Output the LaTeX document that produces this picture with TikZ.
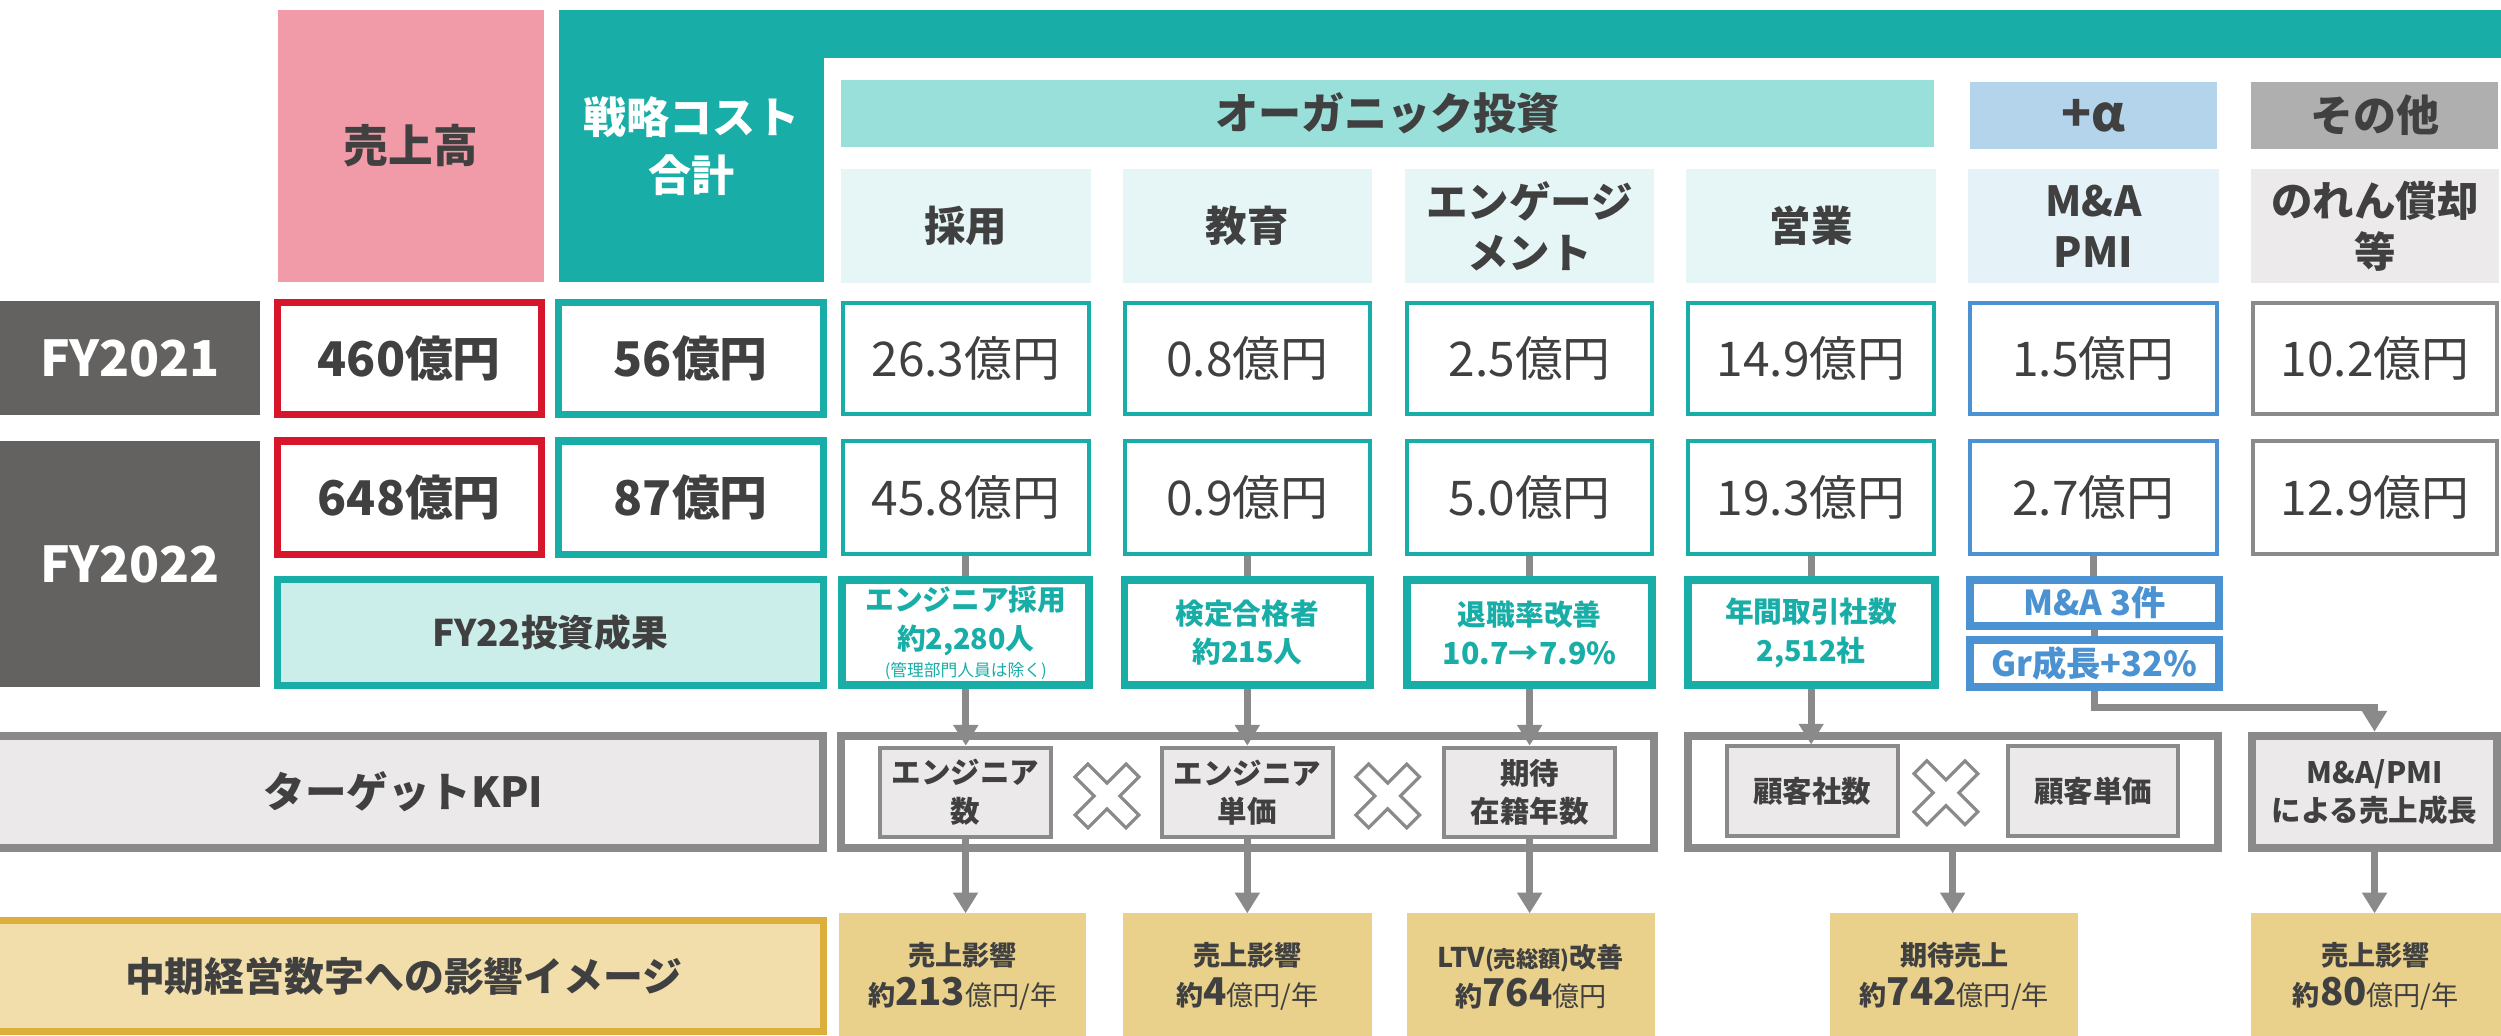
\documentclass[tikz,border=0pt]{standalone}
\usepackage{fontspec}
\setmainfont{Noto Sans CJK JP}
\usetikzlibrary{arrows.meta}
\definecolor{pinkc}{HTML}{F09BA7}
\definecolor{tealc}{HTML}{19ADA7}
\definecolor{tealband}{HTML}{99E0DA}
\definecolor{subteal}{HTML}{E6F5F5}
\definecolor{subblue}{HTML}{E5F2F8}
\definecolor{subgray}{HTML}{ECEAEA}
\definecolor{plusblue}{HTML}{B4D4EC}
\definecolor{othergray}{HTML}{B0AFAF}
\definecolor{fygray}{HTML}{636261}
\definecolor{redc}{HTML}{D7162B}
\definecolor{bluec}{HTML}{4A92D1}
\definecolor{grayc}{HTML}{8A8A8A}
\definecolor{kpifill}{HTML}{EBE9EA}
\definecolor{seikafill}{HTML}{CCEEEA}
\definecolor{yellowc}{HTML}{E9D08B}
\definecolor{yellowlt}{HTML}{F2DEAB}
\definecolor{goldc}{HTML}{DCAE3B}
\definecolor{txt}{HTML}{404040}
\newcommand\fs[2]{\fontsize{#1}{#2}\selectfont}
\newcommand\bx[7]{\node[#2,minimum width={(#5)-(#3)},minimum height={(#6)-(#4)}] (#1) at ({((#3)+(#5))/2},{((#4)+(#6))/2}) {#7};}
\newcommand\xmk[2]{\begin{scope}[shift={(#1,#2)},rotate=45]\draw[xmark] (5.7,22.6) -- (5.7,5.7) -- (22.6,5.7) -- (22.6,-5.7) -- (5.7,-5.7) -- (5.7,-22.6) -- (-5.7,-22.6) -- (-5.7,-5.7) -- (-22.6,-5.7) -- (-22.6,5.7) -- (-5.7,5.7) -- (-5.7,22.6) -- cycle;\end{scope}}
\tikzset{
 cell/.style={inner sep=0pt,outer sep=0pt,align=center,text=txt,rectangle},
 hdr/.style={cell,font=\fs{26}{32}\bfseries},
 val/.style={cell,fill=white,draw=#1,line width=2.5pt,font=\fs{30}{36}},
 bigval/.style={cell,fill=white,draw=#1,line width=4.5pt,font=\fs{30}{36}\bfseries},
 res/.style={cell,fill=white,draw=#1,line width=5pt,text=#1,font=\fs{18}{24.4}\bfseries},
 kpibig/.style={cell,draw=grayc,line width=5pt},
 kpisub/.style={cell,fill=kpifill,draw=grayc,line width=2.5pt,font=\fs{18.5}{24}\bfseries},
 yel/.style={cell,fill=yellowc,font=\fs{17}{25}\bfseries},
 link/.style={draw=grayc,line width=4.5pt},
 arr/.style={link,-{Triangle[width=15pt,length=13pt]}},
 xmark/.style={draw=grayc,fill=white,line width=2pt,line join=miter},
}
\begin{document}
\begin{tikzpicture}[x=1pt,y=-1pt]
\useasboundingbox (0,0) rectangle (1568,649);
% header
\fill[tealc] (510,6) rectangle (1568,36.4);
\bx{uri}{cell,fill=pinkc,font=\fs{28}{34}\bfseries}{174}{6}{341}{177}{売上高}
\bx{sen}{cell,fill=tealc,text=white,font=\fs{27}{36.5}\bfseries}{350.5}{6}{516.5}{177}{戦略コスト\\合計}
\bx{org}{hdr,fill=tealband,font=\fs{27}{32}\bfseries}{527.4}{50.2}{1212.7}{92}{オーガニック投資}
\bx{pla}{hdr,fill=plusblue,font=\fs{31}{32}\bfseries}{1235}{51.4}{1390}{93.2}{+α}
\bx{oth}{hdr,fill=othergray,font=\fs{27}{32}\bfseries}{1411.5}{51.4}{1566}{93.2}{その他}
\bx{h1}{hdr,fill=subteal}{527}{106}{684}{177.2}{採用}
\bx{h2}{hdr,fill=subteal}{704}{106}{860}{177.2}{教育}
\bx{h3}{hdr,fill=subteal}{881}{106}{1037}{177.2}{エンゲージ\\メント}
\bx{h4}{hdr,fill=subteal}{1057}{106}{1214}{177.2}{営業}
\bx{h5}{hdr,fill=subblue}{1234}{106}{1391}{177.2}{M\&A\\PMI}
\bx{h6}{hdr,fill=subgray}{1411}{106}{1567}{177.2}{のれん償却\\等}
% row labels
\bx{fy21}{cell,fill=fygray,text=white,font=\fs{31}{36}\bfseries}{0}{189}{163}{260}{FY2021}
\bx{fy22}{cell,fill=fygray,text=white,font=\fs{31}{36}\bfseries}{0}{276.5}{163}{431}{FY2022}
% FY2021 values
\bx{v21u}{bigval=redc}{173.75}{189.75}{339.45}{259.75}{460億円}
\bx{v21s}{bigval=tealc}{349.95}{189.75}{516.25}{259.75}{56億円}
\bx{v21c1}{val=tealc}{528.25}{190.25}{682.75}{259.75}{26.3億円}
\bx{v21c2}{val=tealc}{705.25}{190.25}{858.75}{259.75}{0.8億円}
\bx{v21c3}{val=tealc}{882.25}{190.25}{1035.75}{259.75}{2.5億円}
\bx{v21c4}{val=tealc}{1058.25}{190.25}{1212.75}{259.75}{14.9億円}
\bx{v21c5}{val=bluec}{1235.25}{190.25}{1389.75}{259.75}{1.5億円}
\bx{v21c6}{val=grayc}{1412.25}{190.25}{1565.75}{259.75}{10.2億円}
% FY2022 values
\bx{v22u}{bigval=redc}{173.75}{276.45}{339.45}{347.75}{648億円}
\bx{v22s}{bigval=tealc}{349.95}{276.45}{516.25}{347.75}{87億円}
\bx{v22c1}{val=tealc}{528.25}{276.65}{682.75}{347.15}{45.8億円}
\bx{v22c2}{val=tealc}{705.25}{276.65}{858.75}{347.15}{0.9億円}
\bx{v22c3}{val=tealc}{882.25}{276.65}{1035.75}{347.15}{5.0億円}
\bx{v22c4}{val=tealc}{1058.25}{276.65}{1212.75}{347.15}{19.3億円}
\bx{v22c5}{val=bluec}{1235.25}{276.65}{1389.75}{347.15}{2.7億円}
\bx{v22c6}{val=grayc}{1412.25}{276.65}{1565.75}{347.15}{12.9億円}
% results
\bx{seika}{cell,fill=seikafill,draw=tealc,line width=4.5pt,font=\fs{23}{26}\bfseries}{173.75}{363.25}{516.25}{429.95}{FY22投資成果}
\bx{r1}{res=tealc}{528}{363.5}{683}{429.7}{エンジニア採用\\約2,280人\\[-7.4pt]{\fs{10.5}{12}\mdseries(管理部門人員は除く)}}
\bx{r2}{res=tealc}{705}{363.5}{859}{429.7}{検定合格者\\約215人}
\bx{r3}{res=tealc}{882}{363.5}{1036}{429.7}{退職率改善\\{\fs{19}{24.4}10.7→7.9\%}}
\bx{r4}{res=tealc}{1058}{363.5}{1213}{429.7}{年間取引社数\\2,512社}
\bx{ma3}{res=bluec,font=\fs{21.5}{24}\bfseries}{1235.1}{363.5}{1391}{392.5}{M\&A 3件}
\bx{gr}{res=bluec,font=\fs{21.5}{24}\bfseries}{1235.1}{401.5}{1391}{430.7}{Gr成長+32\%}
% KPI row
\bx{kpil}{kpibig,fill=kpifill,font=\fs{26}{32}\bfseries}{-10}{461.2}{516}{531.9}{ターゲットKPI}
\bx{k1}{kpibig,fill=white}{527.5}{461.2}{1037.1}{531.9}{}
\bx{k2}{kpibig,fill=white}{1058.1}{461.2}{1390.3}{531.9}{}
\bx{mapmi}{kpibig,fill=kpifill,font=\fs{18.5}{24}\bfseries}{1411.9}{461.2}{1565.5}{531.9}{M\&A/PMI\\による売上成長}
\bx{enum}{kpisub}{551.65}{468.75}{659.05}{524.75}{エンジニア\\数}
\bx{eprice}{kpisub}{728.25}{468.75}{835.75}{524.75}{エンジニア\\単価}
\bx{tenure}{kpisub}{905.25}{468.75}{1012.75}{524.75}{期待\\在籍年数}
\bx{cnum}{kpisub}{1082.65}{468}{1189.75}{524.35}{顧客社数}
\bx{cprice}{kpisub}{1258.95}{468}{1365.55}{524.35}{顧客単価}
\xmk{694}{499}
\xmk{870}{499}
\xmk{1220}{497}
% bottom row
\bx{chuki}{cell,fill=yellowlt,draw=goldc,line width=4.5pt,font=\fs{25}{30}\bfseries}{-10}{576.95}{516.25}{646.75}{中期経営数字への影響イメージ}
\bx{y1}{yel}{526}{572.6}{681}{652}{売上影響\\約{\fs{24}{25}213}{\mdseries 億円/年}}
\bx{y2}{yel}{704}{572.6}{860}{652}{売上影響\\約{\fs{24}{25}4}{\mdseries 億円/年}}
\bx{y3}{yel}{882}{572.6}{1037.6}{652}{LTV{\fs{14}{25}(売総額)}改善\\約{\fs{24}{25}764}{\mdseries 億円}}
\bx{y4}{yel}{1147.4}{572.6}{1303}{652}{期待売上\\約{\fs{24}{25}742}{\mdseries 億円/年}}
\bx{y5}{yel}{1411}{572.6}{1568}{652}{売上影響\\約{\fs{24}{25}80}{\mdseries 億円/年}}
% connectors
\draw[link,shorten <=1.25pt,shorten >=2.5pt] (v22c1.south) -- (v22c1.south |- r1.north);
\draw[link,shorten <=1.25pt,shorten >=2.5pt] (v22c2.south) -- (v22c2.south |- r2.north);
\draw[link,shorten <=1.25pt,shorten >=2.5pt] (v22c3.south) -- (v22c3.south |- r3.north);
\draw[link,shorten <=1.25pt,shorten >=2.5pt] (v22c4.south) -- (v22c4.south |- r4.north);
\draw[link,shorten <=1.25pt,shorten >=2.5pt] (v22c5.south) -- (v22c5.south |- ma3.north);
\draw[link,shorten <=2.5pt,shorten >=2.5pt] (ma3.south) -- (gr.north);
\draw[arr,shorten <=2.5pt,shorten >=1.25pt] (r1.south) -- (r1.south |- enum.north);
\draw[arr,shorten <=2.5pt,shorten >=1.25pt] (r2.south) -- (r2.south |- eprice.north);
\draw[arr,shorten <=2.5pt,shorten >=1.25pt] (r3.south) -- (r3.south |- tenure.north);
\draw[arr,shorten <=2.5pt,shorten >=1.25pt] (r4.south) -- (r4.south |- cnum.north);
\draw[arr,shorten <=1.25pt] (enum.south) -- (enum.south |- y1.north);
\draw[arr,shorten <=1.25pt] (eprice.south) -- (eprice.south |- y2.north);
\draw[arr,shorten <=1.25pt] (tenure.south) -- (tenure.south |- y3.north);
\draw[arr,shorten <=2.5pt] (k2.south) -- (k2.south |- y4.north);
\draw[arr,shorten <=2.5pt,shorten >=2.5pt] (gr.south) -- ++(0,13) -| (mapmi.north);
\draw[arr,shorten <=2.5pt] (mapmi.south) -- (mapmi.south |- y5.north);
\end{tikzpicture}
\end{document}
